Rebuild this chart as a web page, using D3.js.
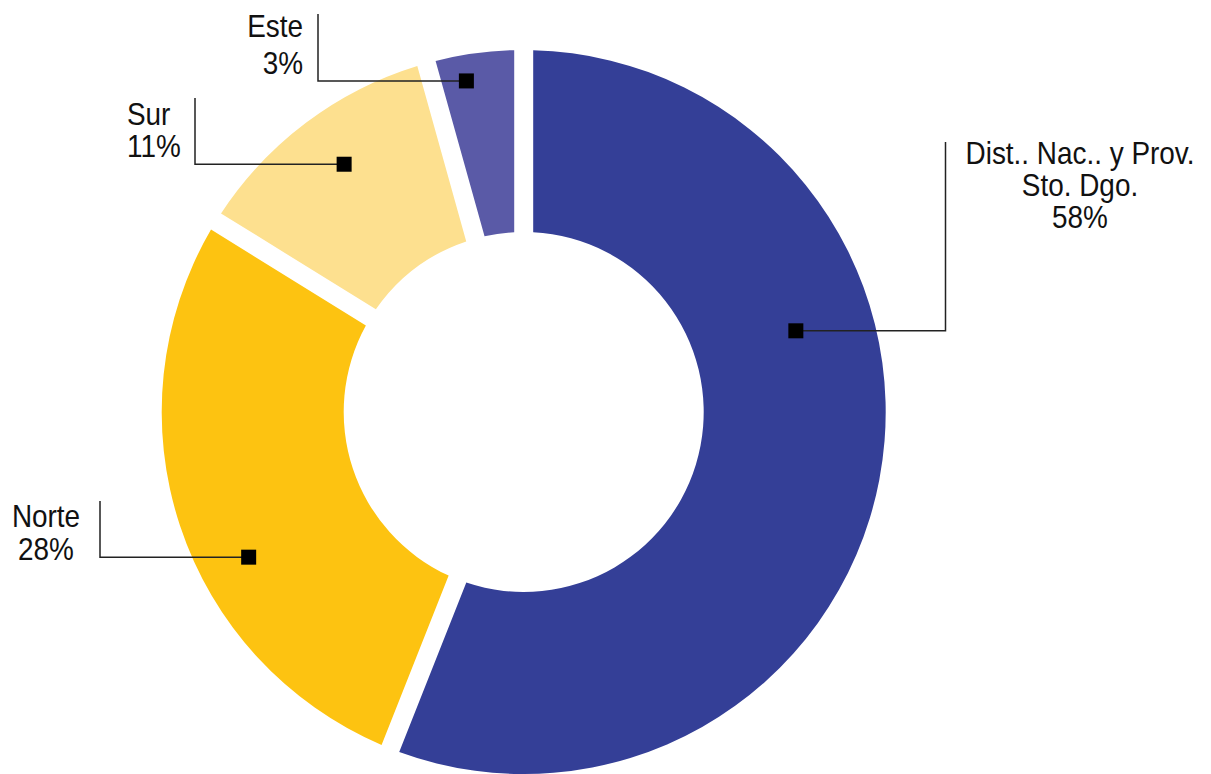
<!DOCTYPE html>
<html>
<head>
<meta charset="utf-8">
<script src="https://cdn.jsdelivr.net/npm/d3@7"></script>
<style>
  html, body { margin: 0; padding: 0; background: #ffffff; }
  svg { display: block; }
  .lbl { font-family: "Liberation Sans", Arial, Helvetica, sans-serif; font-size: 31px; fill: #111111; }
</style>
</head>
<body>
<svg id="chart" width="1211" height="774"></svg>
<script>
// Regional distribution (percent of total)
const regions = ["Dist.. Nac.. y Prov. Sto. Dgo.", "Norte", "Sur", "Este"];
const shares = [58, 28, 11, 3];
const labelLines = [
  ["Dist.. Nac.. y Prov.", "Sto. Dgo.", "58%"],
  ["Norte", "28%"],
  ["Sur", "11%"],
  ["Este", "3%"]
];
const colors = ["#343f97", "#fdc311", "#fde08f", "#5a5aa7"];

// Callout layout: where each label sits and how its leader line runs
const callouts = [
  { frac: 0.364, r: 284, elbowX: 945.5, topY: 142, x: 1080, y: 164, dy: 32, anchor: "middle" },
  { frac: 0.405, r: 311, elbowX: 100,   topY: 501, x: 46,   y: 527, dy: 33, anchor: "middle" },
  { frac: 0.523, r: 306, elbowX: 195,   topY: 98,  x: 127,  y: 125, dy: 32, anchor: "start" },
  { frac: 0.37,  r: 336, elbowX: 318,   topY: 14,  x: 303,  y: 37,  dy: 37, anchor: "end" }
];

const cx = 523.7, cy = 412, outerR = 362, innerR = 180;
const svg = d3.select("#chart");
const g = svg.append("g").attr("transform", `translate(${cx},${cy})`);

const data = regions.map((name, i) => ({ name, value: shares[i], i }));
const pie = d3.pie().sort(null).value(d => d.value).padAngle(0.095);
const arcs = pie(data);
const arc = d3.arc().innerRadius(innerR).outerRadius(outerR).padRadius(200);

g.selectAll("path.slice")
  .data(arcs)
  .join("path")
  .attr("class", "slice")
  .attr("d", arc)
  .attr("fill", d => colors[d.data.i]);

// Leader lines, marker squares and labels
const markerSize = 15;
arcs.forEach(a => {
  const c = callouts[a.data.i];
  const ang = a.startAngle + c.frac * (a.endAngle - a.startAngle);
  const mx = cx + c.r * Math.sin(ang);
  const my = cy - c.r * Math.cos(ang);

  svg.append("path")
    .attr("d", `M${mx},${my}H${c.elbowX}V${c.topY}`)
    .attr("fill", "none")
    .attr("stroke", "#222222")
    .attr("stroke-width", 1.5);

  svg.append("rect")
    .attr("x", mx - markerSize / 2)
    .attr("y", my - markerSize / 2)
    .attr("width", markerSize)
    .attr("height", markerSize)
    .attr("fill", "#000000");

  const tg = svg.append("g").attr("transform", `translate(${c.x},${c.y}) scale(0.9,1)`);
  labelLines[a.data.i].forEach((line, k) => {
    tg.append("text")
      .attr("class", "lbl")
      .attr("x", 0)
      .attr("y", k * c.dy)
      .attr("text-anchor", c.anchor)
      .text(line);
  });
});
</script>
</body>
</html>
